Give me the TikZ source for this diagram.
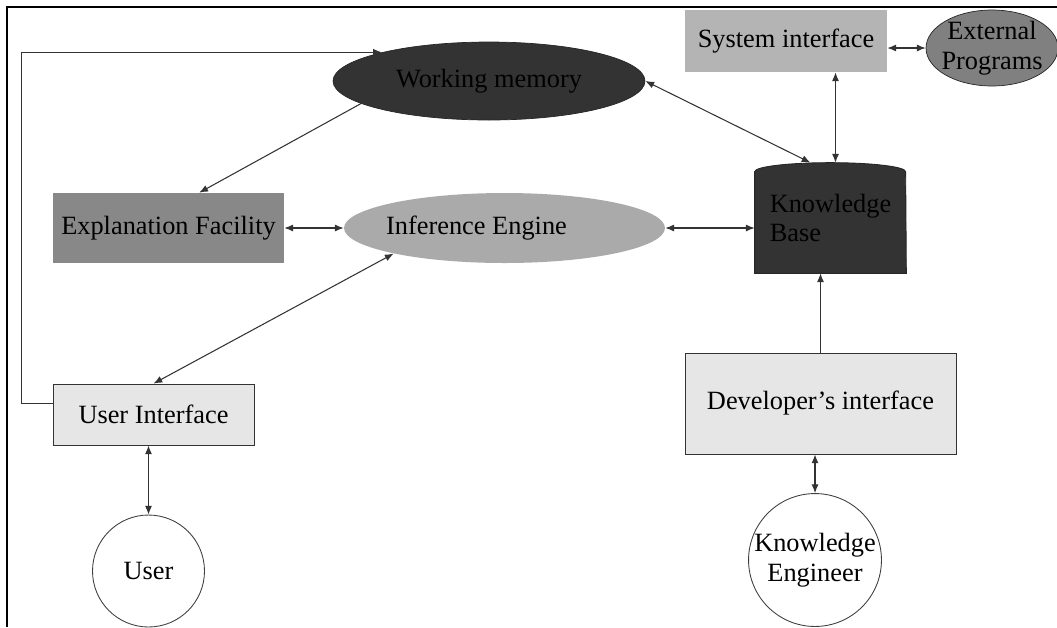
\documentclass[tikz,border=0pt]{standalone}
\usepackage{fontspec}
\setmainfont{Liberation Serif}
\usetikzlibrary{arrows.meta,backgrounds,shapes.geometric}
\tikzset{>={Latex[length=5pt,width=4pt]}}
\definecolor{wmgray}{HTML}{333333}
\definecolor{sigray}{HTML}{B4B4B4}
\definecolor{epgray}{HTML}{808080}
\definecolor{efgray}{HTML}{888888}
\definecolor{iegray}{HTML}{AAAAAA}
\definecolor{uigray}{HTML}{E6E6E6}
\tikzstyle{lbl}=[font=\fontsize{15}{17}\selectfont, inner sep=0pt]
\tikzstyle{blob}=[ellipse, lbl]
\tikzstyle{panel}=[rectangle, lbl]
\tikzstyle{actor}=[circle, lbl, draw=black!75, line width=0.5pt, fill=white, align=center]
\tikzstyle{link}=[draw=black!80, line width=0.6pt]

\begin{document}
\begin{tikzpicture}[x=0.02cm,y=-0.02cm]
  \useasboundingbox (0,0) rectangle (1057,627);
  % frame
  \draw[line width=1.6pt] (1057,7) -- (7,7) -- (7,627);

  \path (489,81) node (wm) [blob, fill=wmgray, draw=black!85,
    minimum width=6.24cm, minimum height=1.56cm] {Working memory};
  \path (786,41) node (si) [panel, fill=sigray,
    minimum width=4.04cm, minimum height=1.24cm] {System interface};
  \path (992,48) node (ep) [blob, fill=epgray, draw=black!85, align=center,
    inner xsep=-3pt, inner ysep=-2pt,
    minimum width=2.64cm, minimum height=1.52cm] {External\\Programs};

  \path (168.5,228) node (ef) [panel, fill=efgray,
    minimum width=4.62cm, minimum height=1.4cm] {Explanation Facility};
  % label sits left of the centre
  \path (504.5,228) node (ie) [blob, fill=iegray,
    minimum width=6.42cm, minimum height=1.4cm] {\hspace*{-1.12cm}Inference Engine};
  \path (830.5,218) node (kb) [panel, align=left,
    minimum width=3.02cm, minimum height=2.2cm] {Knowledge\\Base};
  % cylinder top of the knowledge base
  \begin{scope}[on background layer]
    \filldraw[fill=wmgray, draw=black!85, line width=0.5pt] (kb.south west)
      -- ([yshift=-0.18cm]kb.north west)
      arc[start angle=180, end angle=0, x radius=1.51cm, y radius=0.18cm]
      -- (kb.south east) -- cycle;
  \end{scope}

  \path (153.5,414.5) node (ui) [panel, fill=uigray, draw=black!80, line width=0.5pt,
    minimum width=4.02cm, minimum height=1.22cm] {User Interface};
  \path (820.5,403.5) node (dev) [panel, fill=uigray, draw=black!80, line width=0.5pt,
    minimum width=5.42cm, minimum height=2.02cm] {Developer’s interface};

  \path (148.5,571) node (user) [actor, minimum size=2.24cm] {User};
  \path (815,560) node (ke) [actor, minimum size=2.64cm] {Knowledge\\Engineer};

  \coordinate (kbtop) at ([xshift=0.1cm]kb.north);

  \draw[link,->]  ([yshift=0.22cm]ui.west) -- ++(-31,0) |- (wm.165) ;
  \draw[link,->]  (wm.190) -- (ef.49) ;
  \draw[link,<->] (ef.east) -- (ie.west) ;
  \draw[link,<->] (ie.193) -- (ui.north) ;
  \draw[link,<->] (ui.south -| user.north) -- (user.north) ;
  \draw[link,<->] (ie.east) -- (ie.east -| kb.west) ;
  \draw[link,<->] (wm.east) -- ([xshift=-0.4cm]kb.north) ;
  \draw[link,<->] (si.south -| kbtop) -- (kbtop) ;
  \draw[link,<->] (si.east |- ep.west) -- (ep.west) ;
  \draw[link,->]  (dev.north) -- (dev.north |- kb.south) ;
  \draw[link,<->] (dev.south -| ke.north) -- (ke.north) ;
\end{tikzpicture}
\end{document}
